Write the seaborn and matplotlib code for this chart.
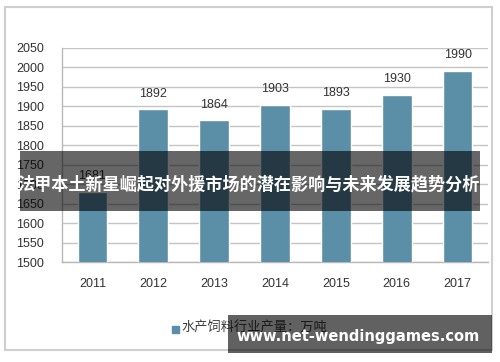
import matplotlib
matplotlib.use("Agg")
import matplotlib.pyplot as plt
import seaborn as sns
import pandas as pd
from matplotlib.patches import Rectangle

years = ["2011", "2012", "2013", "2014", "2015", "2016", "2017"]
values = [1681, 1892, 1864, 1903, 1893, 1930, 1990]
series_name = "水产饲料行业产量：万吨"
y_ticks = [1500, 1550, 1600, 1650, 1700, 1750, 1800, 1850, 1900, 1950, 2000, 2050]
banner_text = "法甲本土新星崛起对外援市场的潜在影响与未来发展趋势分析"
watermark = "www.net-wendinggames.com"

sns.set_theme(style="white")
plt.rcParams['font.family'] = ['Liberation Sans', 'Noto Sans CJK SC', 'DejaVu Sans']

W, H = 500, 362
fig = plt.figure(figsize=(W / 100, H / 100), dpi=100)
ax = fig.add_axes([62 / W, 1 - 262.3 / H, (488 - 62) / W, (262.3 - 47.7) / H])

df = pd.DataFrame({"year": years, "value": values})
bar_color = "#5b8fa8"
sns.barplot(data=df, x="year", y="value", color=bar_color, width=0.49,
            saturation=1, ax=ax, zorder=3)

ax.set_ylim(1500, 2050)
ax.set_yticks(y_ticks)
ax.set_xlabel("")
ax.set_ylabel("")
ax.grid(axis="y", color="#c4c4c4", linewidth=1.0, zorder=0)
ax.set_axisbelow(True)
for s in ["top", "right"]:
    ax.spines[s].set_visible(False)
for s in ["left", "bottom"]:
    ax.spines[s].set_color("#b8b8b8")
    ax.spines[s].set_linewidth(1.0)
ax.tick_params(axis="y", length=0, pad=13, labelsize=9, labelcolor="#333333")
ax.tick_params(axis="x", length=0, pad=11, labelsize=9, labelcolor="#333333")

for i, v in enumerate(values):
    ax.annotate(str(v), (i, v), xytext=(0, 7), textcoords="offset points",
                ha="center", va="bottom", fontsize=9, color="#333333")

# legend
fig.patches.append(Rectangle((172 / W, 1 - 333 / H), 7 / W, 7 / H,
                             transform=fig.transFigure, color=bar_color, zorder=5))
fig.text(181 / W, 1 - 328.5 / H, series_name, ha="left", va="center",
         fontsize=9.5, color="#404040", family=['Noto Sans CJK SC', 'DejaVu Sans'])

# outer border
fig.patches.append(Rectangle((5 / W, 1 - 350 / H), 487 / W, 343 / H,
                             transform=fig.transFigure, fill=False,
                             edgecolor="#cfcfcf", linewidth=1.5, zorder=1))

# banner
fig.patches.append(Rectangle((20 / W, 1 - 211 / H), 460 / W, 60 / H,
                             transform=fig.transFigure, color="black", alpha=0.6,
                             zorder=10, linewidth=0))
fig.text(249 / W, 1 - 184 / H, banner_text, ha="center", va="center",
         fontsize=12.3, color="white", fontweight="bold",
         family=['Noto Sans CJK SC', 'DejaVu Sans'], zorder=11)

# watermark
fig.patches.append(Rectangle((228 / W, 1 - 353 / H), 264 / W, 38 / H,
                             transform=fig.transFigure, color="black", alpha=0.62,
                             zorder=10, linewidth=0))
fig.text(358 / W, 1 - 337 / H, watermark, ha="center", va="center",
         fontsize=10.5, color="white", fontweight="bold",
         family=['DejaVu Sans'], zorder=11)

fig.savefig("out.png", dpi=100)
